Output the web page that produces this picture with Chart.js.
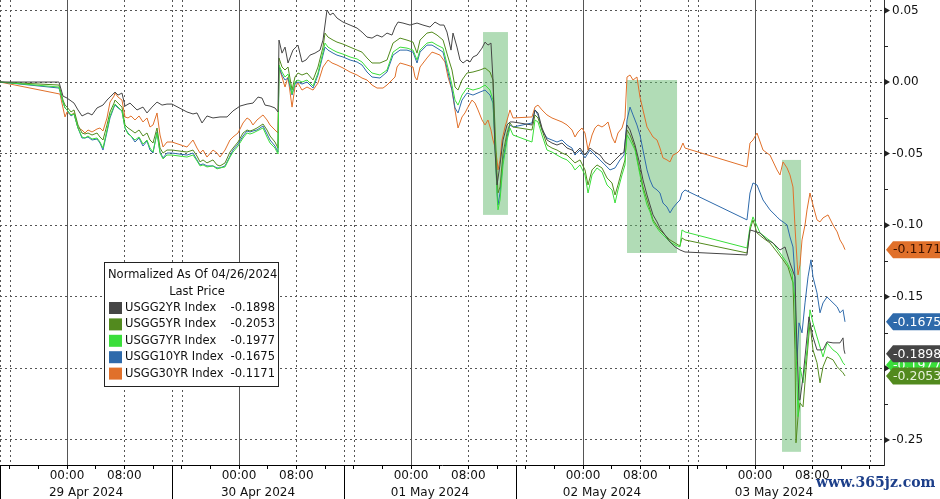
<!DOCTYPE html>
<html>
<head>
<meta charset="utf-8">
<script src="https://cdn.jsdelivr.net/npm/chart.js@4.4.1/dist/chart.umd.min.js"></script>
<style>
  html, body { margin: 0; padding: 0; background: #fff; }
  #wrap { width: 940px; height: 499px; }
</style>
</head>
<body>
<div id="wrap"><canvas id="chart" width="940" height="499"></canvas></div>
<script>
// US Treasury yields, normalized as of 04/26/2024 — intraday, 29 Apr to 03 May 2024
// x = hours since 29 Apr 2024 00:00, y = change since 26 Apr close

const usgg2yr = [
  [-9.35,0],[-1.12,0],[-0.56,-0.0098],[0,-0.0112],[0.98,-0.0147],[1.53,-0.0195],[2.09,-0.0237],[2.93,-0.0216],[3.49,-0.0230],[4.19,-0.0181],
  [5.02,-0.0161],[5.58,-0.0126],[6.00,-0.0105],[6.70,-0.0070],[7.12,-0.0091],[7.67,-0.0077],[8.09,-0.0168],[8.79,-0.0147],[9.77,-0.0195],[10.60,-0.0175],
  [11.16,-0.0216],[11.86,-0.0175],[12.56,-0.0140],[13.26,-0.0161],[13.95,-0.0154],[14.65,-0.0154],
  [16.74,-0.0209],[17.58,-0.0223],[18.14,-0.0216],[18.84,-0.0286],[19.53,-0.0237],[20.37,-0.0251],[21.35,-0.0244],[22.33,-0.0244],[23.16,-0.0202],[24.14,-0.0168],
  [25.12,-0.0154],[25.95,-0.0147],[26.65,-0.0105],[27.21,-0.0112],[27.63,-0.0161],[28.33,-0.0168],[29.02,-0.0181],[29.44,-0.0209],[29.58,0.0293],[30.00,0.0202],
  [30.42,0.0244],[30.84,0.0133],[31.53,0.0223],[32.23,0.0258],[32.79,0.0140],[33.35,0.0154],[33.91,0.0188],[34.60,0.0202],[35.30,0.0223],[35.72,0.0293],
  [36.28,0.0503],[36.70,0.0468],[37.12,0.0482],[37.67,0.0447],
  [38.51,0.0419],[39.49,0.0398],[40.47,0.0377],[41.16,0.0349],[41.86,0.0314],[42.56,0.0307],[43.26,0.0328],[43.95,0.0314],[44.65,0.0342],[45.35,0.0328],
  [45.77,0.0384],[46.19,0.0419],[46.88,0.0412],[47.86,0.0398],[48.84,0.0412],[49.67,0.0398],[50.65,0.0384],[51.35,0.0419],[52.05,0.0398],[52.60,0.0398],
  [53.02,0.0349],[53.58,0.0223],[53.86,0.0342],[54.42,0.0244],[54.84,0.0154],[55.26,0.0133],[55.81,0.0154],[56.23,0.0140],[56.65,0.0175],[57.21,0.0188],
  [57.91,0.0237],[58.33,0.0279],[58.74,0.0258],[59.16,0.0272],[59.44,0.0014],[59.72,-0.0475],[60.00,-0.0719],[60.42,-0.0579],[60.84,-0.0405],[61.40,-0.0300],
  [61.81,-0.0279],[62.23,-0.0279],
  [64.88,-0.0300],[65.30,-0.0195],[65.72,-0.0216],[66.28,-0.0321],[66.98,-0.0405],[67.67,-0.0426],[68.37,-0.0440],[69.07,-0.0426],[69.77,-0.0461],[70.47,-0.0475],
  [70.88,-0.0496],[71.58,-0.0461],[72.28,-0.0510],[72.98,-0.0461],[73.67,-0.0489],[74.37,-0.0510],[75.07,-0.0558],[75.77,-0.0579],[76.47,-0.0544],[77.16,-0.0510],
  [77.72,-0.0489],[78.14,-0.0300],[78.56,-0.0335],[79.26,-0.0440],[79.95,-0.0579],[80.37,-0.0684],[80.93,-0.0789],[81.35,-0.0859],[81.77,-0.0928],[82.33,-0.0977],
  [82.74,-0.1019],[83.44,-0.1068],[84.14,-0.1117],[84.84,-0.1152],[85.53,-0.1173],[86.23,-0.1187],
  [94.88,-0.1208],[95.30,-0.1033],[96.70,-0.1054],[97.67,-0.1103],[98.51,-0.1124],[99.49,-0.1173],[100.19,-0.1152],[100.88,-0.1263],[101.58,-0.1361],[101.86,-0.1871],
  [102.14,-0.2220],[102.28,-0.2220],[102.70,-0.2059],[103.26,-0.1780],[103.53,-0.1640],[104.09,-0.1780],[104.65,-0.1871],[105.49,-0.1871],[106.05,-0.1815],[106.88,-0.1822],
  [107.86,-0.1822],[108.28,-0.1787],[108.42,-0.1871],[108.56,-0.1898]
];

const usgg5yr = [
  [-9.35,0],[-1.12,-0.0021],[-0.56,-0.0126],[-0.28,-0.0161],[0,-0.0175],[0.56,-0.0209],[0.98,-0.0195],[1.53,-0.0300],[2.09,-0.0356],[2.51,-0.0363],
  [2.93,-0.0356],[3.49,-0.0370],[4.19,-0.0356],[4.60,-0.0384],[5.02,-0.0405],[5.58,-0.0300],[6.00,-0.0209],[6.56,-0.0147],[6.70,-0.0126],[7.12,-0.0147],
  [7.67,-0.0175],[8.09,-0.0300],[8.51,-0.0321],[8.93,-0.0335],[9.49,-0.0356],[10.05,-0.0335],[10.60,-0.0377],[11.16,-0.0356],[11.58,-0.0405],[12.00,-0.0426],
  [12.56,-0.0321],[12.98,-0.0461],[13.40,-0.0496],[13.95,-0.0475],[14.65,-0.0475],
  [16.74,-0.0489],[17.58,-0.0475],[18.14,-0.0517],[18.56,-0.0558],[18.98,-0.0544],[19.53,-0.0565],[20.37,-0.0544],[20.93,-0.0579],[21.35,-0.0586],[22.05,-0.0565],
  [22.74,-0.0489],[23.16,-0.0461],[23.86,-0.0419],[24.56,-0.0356],[25.12,-0.0335],[25.53,-0.0342],[25.95,-0.0335],[26.51,-0.0321],[27.35,-0.0293],[27.91,-0.0335],
  [28.33,-0.0377],[29.02,-0.0419],[29.44,-0.0461],[29.58,0.0168],[30.00,0.0105],[30.42,0.0084],[30.84,0.0105],[31.40,-0.0056],[31.81,0.0035],[32.23,0.0063],
  [32.79,0.0049],[33.49,0.0063],[34.33,0.0014],[35.02,0.0105],[35.72,0.0244],[36.00,0.0342],[36.42,0.0314],[37.12,0.0293],[37.67,0.0279],
  [38.51,0.0265],[39.49,0.0244],[40.47,0.0223],[41.16,0.0209],[41.86,0.0168],[42.56,0.0133],[43.67,0.0133],[44.65,0.0154],[45.49,0.0272],[46.47,0.0307],
  [47.44,0.0293],[48.28,0.0279],[48.84,0.0202],[49.26,0.0293],[50.23,0.0342],[50.93,0.0349],[51.63,0.0328],[52.47,0.0293],[53.16,0.0175],[53.72,0.0084],
  [54.14,-0.0035],[54.56,-0.0056],[55.12,0.0014],[55.81,0.0063],[56.65,0.0070],[57.63,0.0084],[58.33,0.0098],[59.02,0.0070],[59.44,0.0014],[59.72,-0.0314],
  [60.00,-0.0635],[60.14,-0.0775],[60.42,-0.0733],[60.84,-0.0496],[61.40,-0.0356],[61.81,-0.0286],[62.23,-0.0314],
  [64.88,-0.0335],[65.30,-0.0230],[65.72,-0.0251],[66.28,-0.0335],[66.98,-0.0440],[67.67,-0.0461],[68.37,-0.0475],[69.07,-0.0496],[69.77,-0.0510],[70.47,-0.0544],
  [70.88,-0.0565],[71.58,-0.0544],[72.28,-0.0614],[72.70,-0.0719],[73.26,-0.0614],[73.95,-0.0579],[74.65,-0.0600],[75.35,-0.0670],[76.05,-0.0705],[76.47,-0.0789],
  [76.88,-0.0719],[77.44,-0.0614],[77.86,-0.0544],[78.14,-0.0335],[78.56,-0.0370],[79.26,-0.0461],[79.95,-0.0628],[80.37,-0.0733],[80.93,-0.0824],[81.35,-0.0893],
  [81.77,-0.0963],[82.33,-0.1005],[82.74,-0.1033],[83.44,-0.1068],[84.14,-0.1103],[84.84,-0.1124],[85.53,-0.1145],[85.81,-0.1089],[86.23,-0.1103],
  [94.88,-0.1194],[95.30,-0.1033],[95.72,-0.0963],[96.28,-0.1054],[97.12,-0.1089],[98.09,-0.1124],[99.07,-0.1187],[99.91,-0.1242],[100.60,-0.1291],[101.30,-0.1403],
  [101.58,-0.1871],[101.72,-0.2520],[102.00,-0.2338],[102.28,-0.2241],[102.70,-0.2269],[103.26,-0.1920],[103.67,-0.1682],[104.09,-0.1871],[104.65,-0.1961],[105.07,-0.2101],
  [105.49,-0.1989],[106.05,-0.1920],[106.88,-0.1940],[107.47,-0.1989],[108.28,-0.2031],[108.56,-0.2053]
];

const usgg7yr = [
  [-9.35,0],[-1.12,-0.0035],[-0.56,-0.0140],[-0.28,-0.0181],[0,-0.0195],[0.56,-0.0230],[0.98,-0.0223],[1.53,-0.0321],[2.09,-0.0384],[2.51,-0.0391],
  [2.93,-0.0377],[3.49,-0.0398],[4.19,-0.0391],[4.60,-0.0419],[5.02,-0.0461],[5.58,-0.0335],[6.00,-0.0237],[6.56,-0.0168],[6.70,-0.0154],[7.12,-0.0175],
  [7.67,-0.0202],[8.09,-0.0321],[8.51,-0.0363],[8.93,-0.0377],[9.49,-0.0405],[10.05,-0.0384],[10.60,-0.0433],[11.16,-0.0405],[11.58,-0.0461],[12.00,-0.0489],
  [12.56,-0.0356],[12.98,-0.0496],[13.40,-0.0537],[13.95,-0.0510],[14.65,-0.0510],
  [16.74,-0.0524],[17.58,-0.0510],[18.14,-0.0551],[18.56,-0.0586],[18.98,-0.0579],[19.53,-0.0593],[20.37,-0.0586],[20.93,-0.0607],[21.35,-0.0600],[22.05,-0.0593],
  [22.74,-0.0524],[23.16,-0.0489],[23.86,-0.0447],[24.56,-0.0391],[25.12,-0.0356],[25.53,-0.0363],[25.95,-0.0356],[26.51,-0.0342],[27.35,-0.0321],[27.91,-0.0384],
  [28.33,-0.0426],[29.02,-0.0461],[29.44,-0.0503],[29.58,0.0119],[30.00,0.0070],[30.42,0.0035],[30.84,0.0056],[31.40,-0.0084],[31.81,0.0000],[32.23,0.0014],
  [32.79,0.0000],[33.49,0.0014],[34.33,-0.0028],[35.02,0.0063],[35.72,0.0209],[36.00,0.0272],[36.42,0.0244],[37.12,0.0223],[37.67,0.0209],
  [38.51,0.0195],[39.49,0.0175],[40.47,0.0161],[41.16,0.0140],[41.86,0.0098],[42.56,0.0063],[43.67,0.0049],[44.65,0.0084],[45.49,0.0209],[46.47,0.0244],
  [47.44,0.0237],[48.28,0.0223],[48.84,0.0154],[49.26,0.0223],[50.23,0.0272],[50.93,0.0279],[51.63,0.0258],[52.47,0.0237],[53.16,0.0098],[53.72,-0.0021],
  [54.14,-0.0126],[54.56,-0.0161],[55.12,-0.0091],[55.81,-0.0042],[56.65,-0.0056],[57.63,-0.0042],[58.33,-0.0021],[59.02,-0.0056],[59.44,-0.0126],[59.72,-0.0405],
  [60.00,-0.0789],[60.14,-0.0893],[60.42,-0.0824],[60.84,-0.0579],[61.40,-0.0405],[61.81,-0.0321],[62.23,-0.0370],
  [64.88,-0.0419],[65.30,-0.0265],[65.72,-0.0279],[66.28,-0.0370],[66.98,-0.0475],[67.67,-0.0489],[68.37,-0.0510],[69.07,-0.0530],[69.77,-0.0544],[70.47,-0.0579],
  [70.88,-0.0614],[71.58,-0.0579],[72.28,-0.0649],[72.70,-0.0775],[73.26,-0.0649],[73.95,-0.0600],[74.65,-0.0628],[75.35,-0.0719],[76.05,-0.0754],[76.47,-0.0845],
  [76.88,-0.0754],[77.44,-0.0649],[77.86,-0.0579],[78.14,-0.0370],[78.56,-0.0405],[79.26,-0.0475],[79.95,-0.0649],[80.37,-0.0754],[80.93,-0.0859],[81.35,-0.0907],
  [81.77,-0.0977],[82.33,-0.1019],[82.74,-0.1047],[83.44,-0.1082],[84.14,-0.1117],[84.84,-0.1138],[85.53,-0.1152],[85.81,-0.1033],[86.23,-0.1047],
  [94.88,-0.1159],[95.30,-0.1012],[95.72,-0.0942],[96.70,-0.1054],[98.51,-0.1124],[99.49,-0.1194],[100.47,-0.1263],[101.16,-0.1333],[101.58,-0.1522],[101.86,-0.2101],
  [102.00,-0.2338],[102.28,-0.1989],[102.70,-0.2101],[103.26,-0.1871],[103.67,-0.1591],[104.09,-0.1682],[104.65,-0.1780],[105.49,-0.1920],[106.05,-0.1822],[106.88,-0.1871],
  [107.47,-0.1892],[107.86,-0.1920],[108.28,-0.1961],[108.56,-0.1977]
];

const usgg10yr = [
  [-9.35,0],[-1.12,-0.0042],[-0.56,-0.0140],[-0.28,-0.0181],[0,-0.0195],[0.56,-0.0237],[0.98,-0.0223],[1.53,-0.0321],[2.09,-0.0391],[2.51,-0.0391],
  [2.93,-0.0384],[3.49,-0.0405],[4.19,-0.0398],[4.60,-0.0426],[5.02,-0.0475],[5.58,-0.0349],[6.00,-0.0251],[6.56,-0.0175],[6.70,-0.0161],[7.12,-0.0181],
  [7.67,-0.0202],[8.09,-0.0321],[8.51,-0.0356],[8.93,-0.0377],[9.49,-0.0419],[10.05,-0.0391],[10.60,-0.0447],[11.16,-0.0412],[11.58,-0.0475],[12.00,-0.0496],
  [12.56,-0.0349],[12.98,-0.0489],[13.40,-0.0530],[13.95,-0.0496],[14.65,-0.0496],
  [16.74,-0.0510],[17.58,-0.0496],[18.14,-0.0544],[18.56,-0.0579],[18.98,-0.0572],[19.53,-0.0586],[20.37,-0.0586],[20.93,-0.0600],[21.35,-0.0600],[22.05,-0.0586],
  [22.74,-0.0517],[23.16,-0.0475],[23.86,-0.0433],[24.56,-0.0377],[25.12,-0.0342],[25.53,-0.0349],[25.95,-0.0342],[26.51,-0.0335],[27.35,-0.0307],[27.91,-0.0363],
  [28.33,-0.0405],[29.02,-0.0447],[29.44,-0.0489],[29.58,0.0105],[30.00,0.0049],[30.42,0.0014],[30.84,0.0028],[31.40,-0.0091],[31.81,-0.0014],[32.23,0.0000],
  [32.79,-0.0014],[33.49,0.0000],[34.33,-0.0042],[35.02,0.0049],[35.72,0.0188],[36.00,0.0244],[36.42,0.0223],[37.12,0.0202],[37.67,0.0188],
  [38.51,0.0175],[39.49,0.0154],[40.47,0.0140],[41.16,0.0119],[41.86,0.0070],[42.56,0.0035],[43.67,0.0028],[44.65,0.0070],[45.49,0.0188],[46.47,0.0223],
  [47.44,0.0223],[48.28,0.0209],[48.84,0.0133],[49.26,0.0209],[50.23,0.0258],[50.93,0.0258],[51.63,0.0237],[52.47,0.0209],[53.16,0.0070],[53.72,-0.0056],
  [54.14,-0.0181],[54.56,-0.0216],[55.12,-0.0126],[55.81,-0.0077],[56.65,-0.0091],[57.63,-0.0070],[58.33,-0.0056],[59.02,-0.0091],[59.44,-0.0147],[59.72,-0.0440],
  [60.00,-0.0754],[60.14,-0.0859],[60.42,-0.0775],[60.84,-0.0544],[61.40,-0.0384],[61.81,-0.0300],[62.23,-0.0314],
  [64.88,-0.0286],[65.30,-0.0195],[65.72,-0.0230],[66.28,-0.0335],[66.98,-0.0391],[67.67,-0.0405],[68.37,-0.0419],[69.07,-0.0405],[69.77,-0.0440],[70.47,-0.0461],
  [70.88,-0.0510],[71.58,-0.0475],[72.28,-0.0530],[72.98,-0.0475],[73.67,-0.0510],[74.37,-0.0544],[75.07,-0.0579],[75.77,-0.0614],[76.47,-0.0600],[77.16,-0.0544],
  [77.72,-0.0510],[78.14,-0.0265],[78.56,-0.0175],[78.98,-0.0230],[79.53,-0.0300],[79.95,-0.0370],[80.37,-0.0475],[80.93,-0.0614],[81.35,-0.0684],[81.77,-0.0733],
  [82.33,-0.0754],[82.74,-0.0775],[83.16,-0.0845],[83.72,-0.0873],[84.14,-0.0914],[84.56,-0.0879],[85.12,-0.0845],[85.53,-0.0824],[85.81,-0.0775],[86.23,-0.0754],
  [94.88,-0.0963],[95.30,-0.0775],[95.72,-0.0705],[96.28,-0.0719],[97.12,-0.0824],[98.09,-0.0893],[99.07,-0.0942],[99.49,-0.0963],[99.91,-0.0977],[100.47,-0.0998],
  [100.88,-0.1082],[101.30,-0.1152],[101.58,-0.1361],[101.72,-0.1801],[101.86,-0.1940],[102.14,-0.1682],[102.56,-0.1752],[102.98,-0.1543],[103.40,-0.1361],[103.81,-0.1242],
  [104.09,-0.1361],[104.65,-0.1473],[105.07,-0.1612],[105.49,-0.1543],[106.05,-0.1501],[106.47,-0.1522],[107.47,-0.1571],[107.86,-0.1612],[108.28,-0.1591],[108.56,-0.1675]
];

const usgg30yr = [
  [-9.35,0],[-0.98,-0.0084],[-0.56,-0.0181],[-0.28,-0.0244],[0,-0.0209],[0.56,-0.0230],[0.98,-0.0216],[1.53,-0.0321],[2.09,-0.0335],[2.51,-0.0356],
  [2.93,-0.0335],[3.49,-0.0349],[4.19,-0.0328],[4.60,-0.0321],[5.02,-0.0342],[5.58,-0.0251],[6.00,-0.0140],[6.56,-0.0098],[6.70,-0.0077],[7.12,-0.0105],
  [7.67,-0.0126],[8.09,-0.0244],[8.51,-0.0251],[8.93,-0.0237],[9.49,-0.0265],[10.05,-0.0237],[10.60,-0.0279],[11.16,-0.0251],[11.58,-0.0314],[12.00,-0.0300],
  [12.56,-0.0216],[12.98,-0.0370],[13.40,-0.0454],[13.95,-0.0419],[14.65,-0.0419],
  [16.74,-0.0454],[17.58,-0.0405],[18.14,-0.0461],[18.56,-0.0496],[18.98,-0.0475],[19.53,-0.0524],[20.37,-0.0475],[20.93,-0.0496],[21.35,-0.0524],[22.05,-0.0475],
  [22.74,-0.0405],[23.16,-0.0384],[23.86,-0.0356],[24.56,-0.0286],[25.12,-0.0251],[25.53,-0.0265],[25.95,-0.0300],[26.51,-0.0265],[27.35,-0.0230],[27.91,-0.0265],
  [28.33,-0.0300],[29.02,-0.0335],[29.44,-0.0356],[29.58,0.0105],[30.00,0.0035],[30.42,-0.0035],[30.84,0.0035],[31.40,-0.0175],[31.81,-0.0035],[32.23,-0.0007],
  [32.79,-0.0056],[33.49,-0.0035],[34.33,-0.0056],[35.02,-0.0007],[35.72,0.0105],[36.42,0.0154],[36.98,0.0133],[37.67,0.0119],
  [38.51,0.0098],[39.49,0.0070],[40.47,0.0049],[41.16,0.0028],[41.86,0.0014],[42.56,-0.0021],[43.26,-0.0042],[44.09,-0.0042],[44.65,-0.0021],[45.35,0.0014],
  [45.77,0.0035],[46.05,0.0105],[46.47,0.0133],[47.44,0.0119],[48.28,0.0105],[48.56,0.0035],[48.84,0.0014],[49.26,0.0105],[50.23,0.0168],[50.93,0.0209],
  [51.35,0.0202],[52.05,0.0188],[52.74,0.0140],[53.16,0.0035],[53.72,-0.0056],[54.14,-0.0195],[54.56,-0.0321],[55.12,-0.0244],[55.53,-0.0216],[55.95,-0.0175],
  [56.51,-0.0126],[56.93,-0.0147],[57.35,-0.0195],[57.91,-0.0265],[58.33,-0.0300],[58.74,-0.0265],[59.16,-0.0335],[59.44,-0.0405],[59.72,-0.0454],[60.00,-0.0544],
  [60.14,-0.0614],[60.42,-0.0544],[60.70,-0.0405],[61.12,-0.0314],[61.53,-0.0244],[61.81,-0.0195],[62.23,-0.0251],
  [64.88,-0.0244],[65.30,-0.0175],[65.72,-0.0161],[66.28,-0.0195],[66.98,-0.0230],[67.67,-0.0251],[68.37,-0.0265],[69.07,-0.0279],[69.77,-0.0300],[70.47,-0.0335],
  [70.88,-0.0384],[71.30,-0.0349],[71.86,-0.0321],[72.28,-0.0356],[72.70,-0.0475],[73.26,-0.0370],[73.67,-0.0321],[74.09,-0.0300],[74.65,-0.0314],[75.07,-0.0300],
  [75.49,-0.0279],[76.05,-0.0384],[76.47,-0.0426],[76.88,-0.0356],[77.44,-0.0321],[77.86,-0.0251],[78.14,0.0035],[78.56,0.0049],[78.98,0.0014],[79.53,0.0035],
  [79.95,-0.0105],[80.37,-0.0195],[80.93,-0.0314],[81.35,-0.0349],[81.77,-0.0384],[82.33,-0.0405],[82.74,-0.0461],[83.16,-0.0530],[83.72,-0.0544],[84.14,-0.0558],
  [84.56,-0.0510],[85.12,-0.0496],[85.53,-0.0475],[85.95,-0.0426],[86.23,-0.0461],
  [94.88,-0.0593],[95.30,-0.0426],[95.72,-0.0405],[96.28,-0.0356],[97.12,-0.0475],[97.67,-0.0496],[98.09,-0.0510],[99.07,-0.0614],[99.49,-0.0649],[99.91,-0.0558],
  [100.47,-0.0600],[100.88,-0.0649],[101.30,-0.0733],[101.58,-0.1012],[101.86,-0.1242],[102.00,-0.1347],[102.28,-0.1277],[102.56,-0.1103],[102.98,-0.0998],[103.26,-0.0893],
  [103.67,-0.0775],[104.09,-0.0859],[104.65,-0.0963],[105.07,-0.0977],[105.49,-0.0949],[106.19,-0.0928],[106.88,-0.0998],[107.47,-0.1047],[107.86,-0.1103],[108.28,-0.1138],
  [108.56,-0.1171]
];

const seriesNames = ['USGG2YR Index', 'USGG5YR Index', 'USGG7YR Index', 'USGG10YR Index', 'USGG30YR Index'];
const lastPrices = [-0.1898, -0.2053, -0.1977, -0.1675, -0.1171];
const seriesColors = ['#454545', '#528a1e', '#3ade3a', '#2e6aab', '#e0702a'];
const tagTextColors = ['#ffffff', '#e8f2dc', '#ffffff', '#ffffff', '#3a1200'];

const yTicks = [0.05, 0, -0.05, -0.10, -0.15, -0.20, -0.25];
const hourTicks = [-8, -4, 0, 4, 8, 12, 16, 20, 24, 28, 32, 36, 40, 44, 48, 52, 56, 60, 64, 68, 72, 76, 80, 84, 88, 92, 96, 100, 104, 108, 112];
const dayLabels = ['29 Apr 2024', '30 Apr 2024', '01 May 2024', '02 May 2024', '03 May 2024'];
const dayCenters = [2.65, 26.65, 50.65, 74.65, 98.65];
const sessionBreaks = [-9.35, 14.65, 38.65, 62.65, 86.65];
// [from hour, to hour, top value, bottom value]
const highlightBoxes = [[58.05, 61.53, 0.0349, -0.0928], [78.14, 85.12, 0.0014, -0.1194], [99.77, 102.42, -0.0544, -0.2583]];

const legendTitle = 'Normalized As Of 04/26/2024';
const legendSubtitle = 'Last Price';

const HOUR_MIN = -9.35, HOUR_MAX = 114;
const FONT = 'DejaVu Sans';

Chart.defaults.font.family = FONT;

function hourOfDay(h) {
  return ((h % 24) + 24) % 24;
}

function vline(ctx, x, y0, y1, dash, color) {
  ctx.save();
  ctx.beginPath();
  ctx.setLineDash(dash);
  ctx.strokeStyle = color;
  ctx.lineWidth = 1;
  const px = Math.round(x) + 0.5;
  ctx.moveTo(px, y0);
  ctx.lineTo(px, y1);
  ctx.stroke();
  ctx.restore();
}

const decorations = {
  id: 'decorations',
  beforeDatasetsDraw(chart) {
    const { ctx, chartArea: a, scales: { x, y } } = chart;
    ctx.save();
    ctx.fillStyle = 'rgba(100, 185, 110, 0.5)';
    highlightBoxes.forEach(([h0, h1, v0, v1]) => {
      const x0 = x.getPixelForValue(h0), x1 = x.getPixelForValue(h1);
      const y0 = y.getPixelForValue(v0), y1 = y.getPixelForValue(v1);
      ctx.fillRect(x0, y0, x1 - x0, y1 - y0);
    });
    ctx.restore();

    // vertical grid: solid at midnight, dotted at 08:00 / 16:00 and session breaks
    hourTicks.forEach(h => {
      const hd = hourOfDay(h);
      const px = x.getPixelForValue(h);
      if (hd === 0) vline(ctx, px, a.top, a.bottom, [], '#555');
      else if (hd === 8 || hd === 16) vline(ctx, px, a.top, a.bottom, [2, 3], '#555');
    });
    sessionBreaks.forEach(h => vline(ctx, x.getPixelForValue(h), a.top, a.bottom, [2, 3], '#555'));
  },
  afterDraw(chart) {
    const { ctx, chartArea: a, scales: { x, y } } = chart;

    // day separators in the axis band
    sessionBreaks.forEach(h => vline(ctx, x.getPixelForValue(h), a.bottom, chart.height, [], '#000'));

    // y-axis tick arrows and minor ticks
    ctx.save();
    ctx.fillStyle = '#222';
    ctx.strokeStyle = '#222';
    yTicks.forEach((v, i) => {
      const py = y.getPixelForValue(v);
      ctx.beginPath();
      ctx.moveTo(a.right, py - 3.5);
      ctx.lineTo(a.right + 6, py);
      ctx.lineTo(a.right, py + 3.5);
      ctx.closePath();
      ctx.fill();
      if (i < yTicks.length - 1) {
        const pm = Math.round(y.getPixelForValue((v + yTicks[i + 1]) / 2)) + 0.5;
        ctx.beginPath();
        ctx.moveTo(a.right, pm);
        ctx.lineTo(a.right + 4, pm);
        ctx.stroke();
      }
    });
    ctx.restore();

    // last-value tags on the right axis
    ctx.save();
    ctx.font = '12.5px ' + FONT;
    ctx.textBaseline = 'middle';
    ctx.textAlign = 'left';
    [2, 0, 1, 3, 4].forEach(i => {
      const py = y.getPixelForValue(lastPrices[i]);
      ctx.fillStyle = seriesColors[i];
      ctx.beginPath();
      ctx.moveTo(a.right + 2, py);
      ctx.lineTo(a.right + 9, py - 8.5);
      ctx.lineTo(chart.width, py - 8.5);
      ctx.lineTo(chart.width, py + 8.5);
      ctx.lineTo(a.right + 9, py + 8.5);
      ctx.closePath();
      ctx.fill();
      ctx.fillStyle = tagTextColors[i];
      ctx.fillText(lastPrices[i].toFixed(4), a.right + 9, py + 0.5);
    });
    ctx.restore();

    // legend box
    const lx = 104, ly = 262, lw = 174, lh = 124;
    ctx.save();
    ctx.fillStyle = '#fff';
    ctx.fillRect(lx, ly, lw, lh);
    ctx.strokeStyle = '#222';
    ctx.lineWidth = 1;
    ctx.strokeRect(lx + 0.5, ly + 0.5, lw, lh);
    ctx.fillStyle = '#111';
    ctx.font = '11.5px ' + FONT;
    ctx.textBaseline = 'middle';
    ctx.textAlign = 'left';
    ctx.fillText(legendTitle, lx + 4, ly + 13);
    ctx.textAlign = 'center';
    ctx.fillText(legendSubtitle, lx + 93, ly + 30);
    seriesNames.forEach((name, i) => {
      const ry = ly + 46 + i * 16.4;
      ctx.fillStyle = seriesColors[i];
      ctx.fillRect(lx + 5, ry - 6, 13, 12);
      ctx.fillStyle = '#111';
      ctx.textAlign = 'left';
      ctx.fillText(name, lx + 21, ry);
      ctx.textAlign = 'right';
      ctx.fillText(lastPrices[i].toFixed(4), lx + lw - 3, ry);
    });
    ctx.restore();

    // watermark
    ctx.save();
    ctx.font = 'bold 14px "DejaVu Serif"';
    ctx.fillStyle = '#1d3f8a';
    ctx.textBaseline = 'middle';
    ctx.textAlign = 'left';
    ctx.fillText('www.365jz.com', 816, 483);
    ctx.restore();
  }
};

const drawOrder = [1, 3, 2, 4, 5];
const seriesData = [usgg2yr, usgg5yr, usgg7yr, usgg10yr, usgg30yr];

new Chart(document.getElementById('chart'), {
  type: 'line',
  data: {
    datasets: seriesNames.map((name, i) => ({
      label: name,
      data: seriesData[i].map(([h, v]) => ({ x: h, y: v })),
      borderColor: seriesColors[i],
      backgroundColor: seriesColors[i],
      borderWidth: 1,
      pointRadius: 0,
      tension: 0,
      order: drawOrder[i],
    })),
  },
  options: {
    responsive: false,
    devicePixelRatio: 1,
    animation: false,
    layout: { padding: 0 },
    plugins: {
      legend: { display: false },
      tooltip: { enabled: false },
    },
    scales: {
      x: {
        type: 'linear',
        position: 'bottom',
        min: HOUR_MIN,
        max: HOUR_MAX,
        afterBuildTicks: s => { s.ticks = hourTicks.map(v => ({ value: v })); },
        afterFit: s => { s.height = 18; s.paddingLeft = 0; s.paddingRight = 0; },
        grid: { drawOnChartArea: false, drawTicks: true, tickLength: 4, tickColor: '#000' },
        border: { display: true, color: '#000', width: 1 },
        ticks: {
          autoSkip: false,
          maxRotation: 0,
          padding: 0,
          color: '#111',
          font: { family: FONT, size: 12 },
          callback: v => {
            const hd = hourOfDay(v);
            return hd === 0 ? '00:00' : hd === 8 ? '08:00' : '';
          },
        },
      },
      x2: {
        type: 'linear',
        position: 'bottom',
        weight: 1,
        min: HOUR_MIN,
        max: HOUR_MAX,
        afterBuildTicks: s => { s.ticks = dayCenters.map(v => ({ value: v })); },
        afterFit: s => { s.height = 16; s.paddingLeft = 0; s.paddingRight = 0; },
        grid: { display: false, drawTicks: false },
        border: { display: false },
        ticks: {
          autoSkip: false,
          maxRotation: 0,
          padding: 3,
          color: '#111',
          font: { family: FONT, size: 12 },
          callback: (v, i) => dayLabels[i],
        },
      },
      y: {
        type: 'linear',
        position: 'right',
        min: -0.2675,
        max: 0.0573,
        afterBuildTicks: s => { s.ticks = yTicks.map(v => ({ value: v })); },
        afterFit: s => { s.width = 56; s.paddingTop = 0; s.paddingBottom = 0; },
        grid: { color: '#555', lineWidth: 1, drawTicks: true, tickLength: 7, tickColor: 'rgba(0,0,0,0)' },
        border: { display: true, color: '#333', width: 1, dash: [2, 3] },
        ticks: {
          padding: 1,
          color: '#111',
          font: { family: FONT, size: 12 },
          callback: v => v.toFixed(2),
        },
      },
    },
  },
  plugins: [decorations],
});
</script>
</body>
</html>
